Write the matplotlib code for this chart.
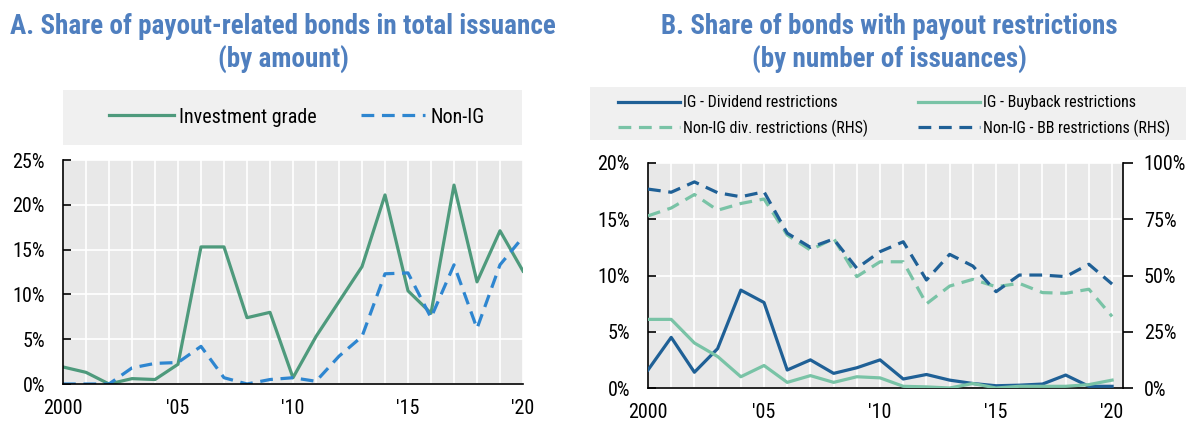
import numpy as np
import matplotlib
matplotlib.use("Agg")
import matplotlib.pyplot as plt
from matplotlib.patches import Rectangle
from matplotlib.ticker import FuncFormatter, MultipleLocator, FixedLocator

plt.rcParams['font.family'] = ['Roboto Condensed', 'Liberation Sans', 'DejaVu Sans']

years = list(range(2000, 2021))

# panel A (per cent of total issuance, by amount)
ig_amount = [1.9, 1.3, 0.0, 0.6, 0.5, 2.2, 15.3, 15.3, 7.4, 8.0, 0.7,
             5.3, 9.2, 13.1, 21.1, 10.4, 7.9, 22.2, 11.4, 17.1, 12.6]
nonig_amount = [0.0, 0.0, 0.0, 1.8, 2.3, 2.4, 4.2, 0.7, 0.0, 0.5, 0.7,
                0.3, 3.1, 5.3, 12.3, 12.4, 7.4, 13.3, 6.2, 13.3, 16.4]

# panel B (per cent of issuances, by number)
ig_div = [1.6, 4.5, 1.4, 3.5, 8.7, 7.6, 1.6, 2.5, 1.3, 1.8, 2.5,
          0.8, 1.2, 0.7, 0.4, 0.2, 0.25, 0.35, 1.15, 0.15, 0.15]
ig_bb = [6.1, 6.1, 4.0, 2.8, 1.0, 2.0, 0.5, 1.1, 0.5, 1.0, 0.9,
         0.15, 0.1, 0.0, 0.4, 0.0, 0.15, 0.15, 0.15, 0.3, 0.7]
nonig_div = [76.5, 80, 86, 79, 82, 84, 68, 61.3, 66.5, 49.5, 56.1,
             56.1, 37.4, 45.3, 48.3, 45.0, 46.5, 42.4, 42.1, 43.9, 31.8]
nonig_bb = [88.4, 87, 91.6, 86.8, 85, 87.2, 68.8, 62.5, 66.2, 53.2, 60.6,
            65.0, 48.0, 59.4, 54.2, 42.8, 50.2, 50.2, 49.5, 55.0, 46.2]

xticks = [2000, 2005, 2010, 2015, 2020]
xticklabels = ['2000', "'05", "'10", "'15", "'20"]

title_col = '#4f7fbf'
green_a = '#4e9a7c'
blue_a = '#2e86d0'
dark_b = '#1f6096'
light_b = '#79c3a6'
bg = '#e8e8e8'
leg_bg = '#f0f0f0'
dash = (4, 2.4)
lw = 2.3
W, H = 1190, 423

pct = FuncFormatter(lambda v, p: '{:.0f}%'.format(v))

fig = plt.figure(figsize=(11.9, 4.23), dpi=100)


def style_axes(ax, xmax, ymax, ystep):
    ax.set_facecolor(bg)
    ax.set_xlim(2000, xmax)
    ax.set_ylim(0, ymax)
    ax.yaxis.set_major_locator(MultipleLocator(ystep))
    ax.yaxis.set_major_formatter(pct)
    ax.set_xticks(xticks)
    ax.set_xticklabels(xticklabels)
    ax.xaxis.set_minor_locator(FixedLocator(years))
    ax.grid(True, which='both', axis='x', color='white', lw=1.2)
    ax.grid(True, which='major', axis='y', color='white', lw=1.2)
    ax.set_axisbelow(True)
    for s in ['top', 'right']:
        ax.spines[s].set_visible(False)
    ax.spines['left'].set_linewidth(1.2)
    ax.spines['bottom'].set_linewidth(1.2)
    ax.tick_params(axis='y', direction='in', length=6, width=1.2, labelsize=14.5, pad=13)
    ax.tick_params(axis='x', which='both', length=0, labelsize=14.5, pad=11)


# ---- panel A ----
axA = fig.add_axes([63/W, (H-384)/H, 460/W, 224/H])
style_axes(axA, 2020, 25, 5)
axA.plot(years, ig_amount, color=green_a, lw=lw, label='Investment grade')
axA.plot(years, nonig_amount, color=blue_a, lw=lw, dashes=dash, label='Non-IG')

fig.text(283/W, 1 - 13/H, 'A. Share of payout-related bonds in total issuance\n(by amount)',
         ha='center', va='top', fontsize=19.5, fontweight='bold', color=title_col,
         linespacing=1.25)

fig.add_artist(Rectangle((63/W, 1 - 145/H), 459/W, 55/H,
                         transform=fig.transFigure, facecolor=leg_bg, edgecolor='none'))
fig.legend(handles=axA.get_lines(), loc='center', bbox_to_anchor=(297/W, 1 - 117/H),
           ncol=2, frameon=False, fontsize=14.5, handlelength=3.2, handletextpad=0.25,
           columnspacing=2.2)

# ---- panel B ----
axB = fig.add_axes([648/W, (H-388)/H, 475/W, 225/H])
style_axes(axB, 2020.47, 20, 5)
axB.plot(years, ig_div, color=dark_b, lw=lw, label='IG - Dividend restrictions', zorder=3)
axB.plot(years, ig_bb, color=light_b, lw=lw, label='IG - Buyback restrictions', zorder=3)
axB2 = axB.twinx()
axB2.set_ylim(0, 100)
axB2.yaxis.set_major_locator(MultipleLocator(25))
axB2.yaxis.set_major_formatter(pct)
for s in ['top', 'left', 'bottom']:
    axB2.spines[s].set_visible(False)
axB2.spines['right'].set_linewidth(1.2)
axB2.tick_params(axis='y', direction='out', length=7, width=1.2, labelsize=14.5, pad=8)
axB2.plot(years, nonig_div, color=light_b, lw=lw, dashes=dash,
          label='Non-IG div. restrictions (RHS)')
axB2.plot(years, nonig_bb, color=dark_b, lw=lw, dashes=dash,
          label='Non-IG - BB restrictions (RHS)')

fig.text(889/W, 1 - 13/H, 'B. Share of bonds with payout restrictions\n(by number of issuances)',
         ha='center', va='top', fontsize=19.5, fontweight='bold', color=title_col,
         linespacing=1.25)

fig.add_artist(Rectangle((590/W, 1 - 140/H), 596/W, 53/H,
                         transform=fig.transFigure, facecolor=leg_bg, edgecolor='none'))
handles = axB.get_lines() + axB2.get_lines()
order = [0, 2, 1, 3]
fig.legend(handles=[handles[i] for i in order], loc='center',
           bbox_to_anchor=(894/W, 1 - 116/H), ncol=2, frameon=False,
           fontsize=11.5, handlelength=3.9, handletextpad=0.2, columnspacing=3.1,
           labelspacing=0.55)

fig.savefig('out.png', dpi=100)
